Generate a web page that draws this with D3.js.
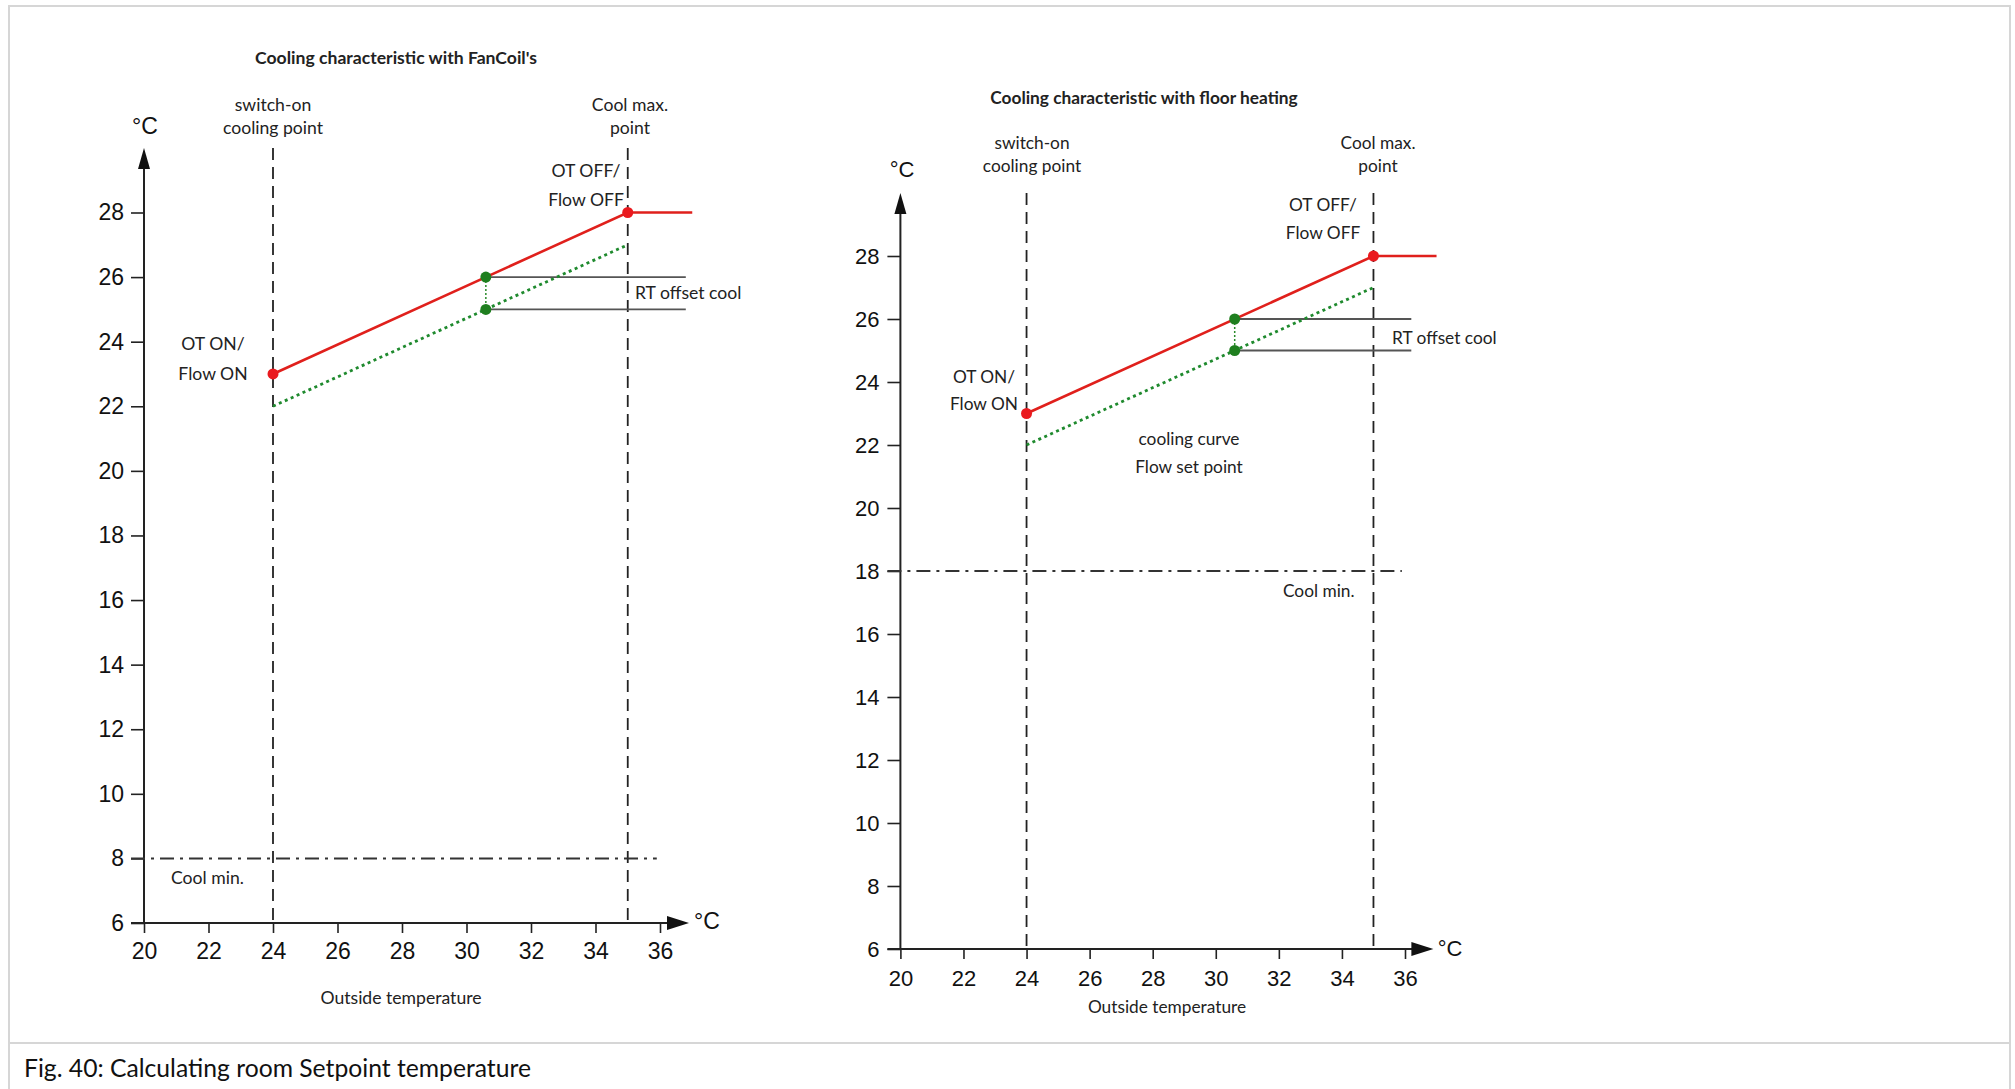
<!DOCTYPE html>
<html><head><meta charset="utf-8">
<script src="https://cdn.jsdelivr.net/npm/d3@7"></script>
<style>
body{margin:0;background:#fff}
.ann{font-family:Lato,"Open Sans",sans-serif;fill:#222}
.tick text{font-family:"Liberation Sans",Arial,sans-serif;fill:#111}
</style>
</head><body><svg id="c" width="2015" height="1089"></svg>
<script>
// ---------- data ----------
const xTicks = [20,22,24,26,28,30,32,34,36];
const yTicks = [6,8,10,12,14,16,18,20,22,24,26,28];
const panelTitles = ["Cooling characteristic with FanCoil's", "Cooling characteristic with floor heating"];
const switchOnPoint = [24, 24];
const coolMaxPoint = [35, 35];
const coolMinValue = [8, 18];
const coolMinEnd = [35.9, 35.9];
const roomCurveX = [24, 35, 37];
const roomCurveY = [23, 28, 28];
const flowCurveX = [24, 35];
const flowCurveY = [22, 27];
const offsetPointX = [30.6, 30.6];
const offsetRoomY = [26, 26];
const offsetFlowY = [25, 25];
const offsetLineEnd = [36.8, 36.2];
const xAxisEnd = 36.9;
const yAxisEnd = 30;
const caption = "Fig. 40: Calculating room Setpoint temperature";

// ---------- layout ----------
const layouts = [
  {x0:144, x1:660, yb:923, yt:212.5, tickFont:23, yPad:7, xPad:10, dashTop:148, titleFont:17.6, annFont:17.6,
   title:[396,57], yUnit:[145,126], xUnit:[707,921],
   sw:[273,104,127], cm:[630,104,127], off:[586,170,199], on:[213,343,373],
   rt:[635,292], cmin:[171,877], outside:[401,997], curve:null},
  {x0:900.4, x1:1405, yb:949, yt:256, tickFont:22, yPad:8, xPad:11, dashTop:193, titleFont:17.3, annFont:17.3,
   title:[1144,97], yUnit:[902,169], xUnit:[1450,948],
   sw:[1032,142,165], cm:[1378,142,165], off:[1323,204,232], on:[984,376,403],
   rt:[1392,337], cmin:[1283,590], outside:[1167,1006], curve:[1189,438,466]}
];

const svg = d3.select("#c");
svg.append("rect").attr("x",0).attr("y",0).attr("width",2015).attr("height",1089).attr("fill","#fff");
svg.append("rect").attr("x",9).attr("y",6).attr("width",2001).attr("height",1100)
  .attr("fill","none").attr("stroke","#d6d6d6").attr("stroke-width",2);
svg.append("line").attr("x1",9).attr("x2",2010).attr("y1",1043).attr("y2",1043)
  .attr("stroke","#d6d6d6").attr("stroke-width",2);
svg.append("text").attr("class","ann").attr("x",24).attr("y",1077)
  .attr("font-size",24.7).style("fill","#111").text(caption);

function ann(g, x, y, txt, size, anchor, weight){
  g.append("text").attr("class","ann").attr("x",x).attr("y",y)
   .attr("dominant-baseline","central").attr("text-anchor",anchor||"middle")
   .attr("font-size",size).attr("font-weight",weight||"normal").text(txt);
}

layouts.forEach((L, i) => {
  const g = svg.append("g");
  const x = d3.scaleLinear().domain([20,36]).range([L.x0, L.x1]);
  const y = d3.scaleLinear().domain([6,28]).range([L.yb, L.yt]);
  const fs = L.annFont;

  // y axis
  const ya = g.append("g").attr("transform",`translate(${x(20)},0)`)
    .call(d3.axisLeft(y).tickValues(yTicks).tickSize(13).tickPadding(L.yPad).tickFormat(d3.format("d")));
  ya.select(".domain").remove();
  ya.selectAll(".tick line").attr("stroke","#222").attr("stroke-width",1.6);
  ya.selectAll(".tick text").attr("font-size",L.tickFont);
  // x axis
  const xa = g.append("g").attr("transform",`translate(0,${y(6)})`)
    .call(d3.axisBottom(x).tickValues(xTicks).tickSize(10).tickPadding(L.xPad).tickFormat(d3.format("d")));
  xa.select(".domain").remove();
  xa.selectAll(".tick line").attr("stroke","#222").attr("stroke-width",1.6);
  xa.selectAll(".tick text").attr("font-size",L.tickFont);

  // axis lines with arrows
  g.append("line").attr("x1",x(20)).attr("x2",x(20)).attr("y1",y(6)).attr("y2",y(yAxisEnd)+18)
    .attr("stroke","#222").attr("stroke-width",2);
  g.append("path").attr("d",`M${x(20)},${y(yAxisEnd)} L${x(20)-6},${y(yAxisEnd)+21} L${x(20)+6},${y(yAxisEnd)+21}Z`).attr("fill","#111");
  g.append("line").attr("x1",x(20)-13).attr("x2",x(xAxisEnd)-18).attr("y1",y(6)).attr("y2",y(6))
    .attr("stroke","#222").attr("stroke-width",2);
  g.append("path").attr("d",`M${x(xAxisEnd)},${y(6)} L${x(xAxisEnd)-22},${y(6)-7} L${x(xAxisEnd)-22},${y(6)+7}Z`).attr("fill","#111");
  g.append("text").attr("x",L.yUnit[0]).attr("y",L.yUnit[1]).attr("text-anchor","middle").attr("dominant-baseline","central")
    .attr("font-family","Liberation Sans,Arial,sans-serif").attr("font-size",L.tickFont).attr("fill","#111").text("°C");
  g.append("text").attr("x",L.xUnit[0]).attr("y",L.xUnit[1]).attr("text-anchor","middle").attr("dominant-baseline","central")
    .attr("font-family","Liberation Sans,Arial,sans-serif").attr("font-size",L.tickFont).attr("fill","#111").text("°C");

  // vertical dashed lines
  [switchOnPoint[i], coolMaxPoint[i]].forEach(v => {
    g.append("line").attr("x1",x(v)).attr("x2",x(v)).attr("y1",L.dashTop).attr("y2",y(6))
      .attr("stroke","#222").attr("stroke-width",1.8).attr("stroke-dasharray","12,7");
  });
  // cool min dash-dot
  g.append("line").attr("x1",x(20)-13).attr("x2",x(coolMinEnd[i])).attr("y1",y(coolMinValue[i])).attr("y2",y(coolMinValue[i]))
    .attr("stroke","#333").attr("stroke-width",2).attr("stroke-dasharray","14,6,3,6");

  // offset gray lines
  [offsetRoomY[i], offsetFlowY[i]].forEach(v => {
    g.append("line").attr("x1",x(offsetPointX[i])).attr("x2",x(offsetLineEnd[i])).attr("y1",y(v)).attr("y2",y(v))
      .attr("stroke","#555").attr("stroke-width",1.8);
  });
  // green dotted vertical between offset points
  g.append("line").attr("x1",x(offsetPointX[i])).attr("x2",x(offsetPointX[i]))
    .attr("y1",y(offsetRoomY[i])).attr("y2",y(offsetFlowY[i]))
    .attr("stroke","#2a8a2a").attr("stroke-width",1.5).attr("stroke-dasharray","2,2");

  // flow curve (green dotted)
  const line = d3.line().x(d=>x(d[0])).y(d=>y(d[1]));
  g.append("path").attr("d", line(d3.zip(flowCurveX, flowCurveY)))
    .attr("fill","none").attr("stroke","#1f8a2e").attr("stroke-width",2.8).attr("stroke-dasharray","3,3.5");
  // room curve (red)
  g.append("path").attr("d", line(d3.zip(roomCurveX, roomCurveY)))
    .attr("fill","none").attr("stroke","#e0201c").attr("stroke-width",2.6);
  // red points
  [0,1].forEach(k => {
    g.append("circle").attr("cx",x(roomCurveX[k])).attr("cy",y(roomCurveY[k])).attr("r",5.5).attr("fill","#ea1a1f");
  });
  // green points
  [offsetRoomY[i], offsetFlowY[i]].forEach(v => {
    g.append("circle").attr("cx",x(offsetPointX[i])).attr("cy",y(v)).attr("r",5.5).attr("fill","#1f7f1f");
  });

  // annotations
  ann(g, L.title[0], L.title[1], panelTitles[i], L.titleFont, "middle", "bold");
  ann(g, L.sw[0], L.sw[1], "switch-on", fs);
  ann(g, L.sw[0], L.sw[2], "cooling point", fs);
  ann(g, L.cm[0], L.cm[1], "Cool max.", fs);
  ann(g, L.cm[0], L.cm[2], "point", fs);
  ann(g, L.off[0], L.off[1], "OT OFF/", fs);
  ann(g, L.off[0], L.off[2], "Flow OFF", fs);
  ann(g, L.on[0], L.on[1], "OT ON/", fs);
  ann(g, L.on[0], L.on[2], "Flow ON", fs);
  ann(g, L.rt[0], L.rt[1], "RT offset cool", fs, "start");
  ann(g, L.cmin[0], L.cmin[1], "Cool min.", fs, "start");
  ann(g, L.outside[0], L.outside[1], "Outside temperature", fs);
  if (L.curve) {
    ann(g, L.curve[0], L.curve[1], "cooling curve", fs);
    ann(g, L.curve[0], L.curve[2], "Flow set point", fs);
  }
});
</script>
</body></html>
